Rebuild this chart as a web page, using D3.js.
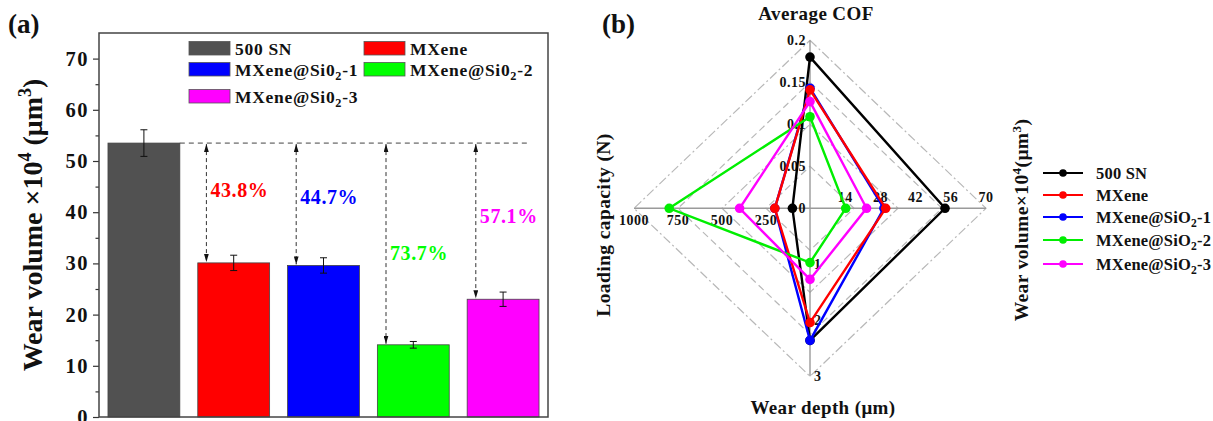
<!doctype html>
<html>
  <head>
    <meta charset="utf-8">
    <style>
      body { margin: 0; background: #fff; }
      svg text { font-family: "Liberation Serif", "Times New Roman", serif; font-weight: bold; }
    </style>
  </head>
  <body>
    <svg id="chart" width="1213" height="421"></svg>

  <script src="https://cdn.jsdelivr.net/npm/d3@7"></script>
  <script>
  // ---- panel (a) data: wear volume bars ----
  let samples = ["500 SN", "MXene", "MXene@Si0_2-1", "MXene@Si0_2-2", "MXene@Si0_2-3"];
  let barColors = ["#515151", "#ff0000", "#0000ff", "#00ff00", "#ff00ff"];
  let wearVolume = [53.5, 30.1, 29.6, 14.1, 23.0];
  let wearErr = [2.6, 1.5, 1.5, 0.65, 1.4];
  let reduction = ["43.8%", "44.7%", "73.7%", "57.1%"];
  let reductionLabelAt = [42.9, 41.6, 30.7, 37.9]; // label baselines, in wear volume units
  let yTicks = [0, 10, 20, 30, 40, 50, 60, 70];
  let yMinorTicks = [5, 15, 25, 35, 45, 55, 65];

  // ---- panel (b) data: radar ----
  let radarNames = ["500 SN", "MXene", "MXene@SiO_2-1", "MXene@SiO_2-2", "MXene@SiO_2-3"];
  let radarColors = ["#000000", "#ff0000", "#0000ff", "#00ee00", "#ff00ff"];
  let avgCOF = [0.18, 0.141, 0.143, 0.109, 0.127];
  let radarVolume = [53.7, 30.1, 29.4, 14.2, 22.5];
  let wearDepth = [2.36, 2.04, 2.36, 0.97, 1.27];
  let loadCapacity = [100, 200, 200, 800, 400];
  let cofTicks = [0, 0.05, 0.1, 0.15, 0.2];
  let volumeTicks = [14, 28, 42, 56, 70];
  let depthTicks = [1, 2, 3];
  let loadTicks = [250, 500, 750, 1000];
  let ringLevels = [0.25, 0.5, 0.75, 1];
  let drawOrder = [0, 2, 1, 3, 4];

  let svg = d3.select("#chart");

  // writes "abc_2def" as abc + subscript 2 + def
  function subLabel(t, str, shift) {
    let parts = str.split("_");
    t.append("tspan").text(parts[0]);
    if (parts.length > 1) {
      t.append("tspan").attr("dy", shift).attr("font-size", "70%").text(parts[1][0]);
      t.append("tspan").attr("dy", -shift).text(parts[1].slice(1));
    }
  }

  // ================= panel (a) =================
  let frame = { left: 99, right: 548, top: 33, bottom: 417 };

  let x = d3.scaleBand()
    .domain(samples)
    .range([frame.left, frame.right])
    .paddingInner(0.2)
    .paddingOuter(0.1);
  let y = d3.scaleLinear().domain([0, 75]).range([frame.bottom, frame.top]);

  let pa = svg.append("g");

  // axis ticks
  let yAxis = pa.append("g")
    .attr("transform", "translate(" + frame.left + ",0)")
    .call(d3.axisLeft(y).tickValues(yTicks).tickSize(6).tickPadding(4));
  yAxis.select(".domain").remove();
  yAxis.selectAll("line").attr("stroke", "#333").attr("stroke-width", 1.2);
  yAxis.selectAll("text").attr("font-size", "20.5px").attr("letter-spacing", "1.5px").attr("fill", "#111");

  let yMinor = pa.append("g")
    .attr("transform", "translate(" + frame.left + ",0)")
    .call(d3.axisLeft(y).tickValues(yMinorTicks).tickSize(3.5).tickFormat(""));
  yMinor.select(".domain").remove();
  yMinor.selectAll("line").attr("stroke", "#333").attr("stroke-width", 1.2);

  // bars
  pa.append("g")
    .selectAll("rect")
    .data(samples)
    .join("rect")
    .attr("x", d => x(d))
    .attr("y", (d, i) => y(wearVolume[i]))
    .attr("width", x.bandwidth())
    .attr("height", (d, i) => y(0) - y(wearVolume[i]))
    .attr("fill", (d, i) => barColors[i])
    .attr("stroke", "#444")
    .attr("stroke-width", 0.8);

  // error bars
  let eb = pa.append("g").attr("stroke", "#111").attr("stroke-width", 1);
  samples.forEach(function (d, i) {
    let cxb = x(d) + x.bandwidth() / 2;
    let hi = y(wearVolume[i] + wearErr[i]);
    let lo = y(wearVolume[i] - wearErr[i]);
    eb.append("line").attr("x1", cxb).attr("x2", cxb).attr("y1", hi).attr("y2", lo);
    eb.append("line").attr("x1", cxb - 3.5).attr("x2", cxb + 3.5).attr("y1", hi).attr("y2", hi);
    eb.append("line").attr("x1", cxb - 3.5).attr("x2", cxb + 3.5).attr("y1", lo).attr("y2", lo);
  });

  // reference dashed line at the 500 SN level
  let refY = y(wearVolume[0]);
  pa.append("line")
    .attr("x1", x(samples[0]) + x.bandwidth())
    .attr("x2", x(samples[4]) + x.bandwidth() * 0.87)
    .attr("y1", refY)
    .attr("y2", refY)
    .attr("stroke", "#444")
    .attr("stroke-width", 1)
    .attr("stroke-dasharray", "5,4");

  let defs = svg.append("defs");
  defs.append("marker")
    .attr("id", "arrowHead")
    .attr("viewBox", "0 0 10 6")
    .attr("refX", 10)
    .attr("refY", 3)
    .attr("markerUnits", "userSpaceOnUse")
    .attr("markerWidth", 8)
    .attr("markerHeight", 5)
    .attr("orient", "auto-start-reverse")
    .append("path")
    .attr("d", "M0,0L10,3L0,6z")
    .attr("fill", "#111");

  // double arrows + reduction labels
  reduction.forEach(function (r, k) {
    let i = k + 1;
    let ax = x(samples[i]) + x.bandwidth() * 0.12;
    pa.append("line")
      .attr("x1", ax)
      .attr("x2", ax)
      .attr("y1", refY + 1)
      .attr("y2", y(wearVolume[i]) - 1)
      .attr("stroke", "#333")
      .attr("stroke-width", 1)
      .attr("stroke-dasharray", "4,3")
      .attr("marker-start", "url(#arrowHead)")
      .attr("marker-end", "url(#arrowHead)");
    pa.append("text")
      .attr("x", ax + 4)
      .attr("y", y(reductionLabelAt[k]))
      .attr("font-size", "20px")
      .attr("letter-spacing", "0.6px")
      .attr("fill", barColors[i])
      .text(r);
  });

  // frame
  pa.append("rect")
    .attr("x", frame.left)
    .attr("y", frame.top)
    .attr("width", frame.right - frame.left)
    .attr("height", frame.bottom - frame.top)
    .attr("fill", "none")
    .attr("stroke", "#444")
    .attr("stroke-width", 1.5);

  // legend (a)
  let legA = pa.append("g");
  let legPos = [[189, 41.5], [364, 41.5], [189, 62.5], [364, 62.5], [189, 89.5]];
  samples.forEach(function (d, i) {
    legA.append("rect")
      .attr("x", legPos[i][0])
      .attr("y", legPos[i][1])
      .attr("width", 41)
      .attr("height", 13.5)
      .attr("fill", barColors[i])
      .attr("stroke", "#555")
      .attr("stroke-width", 0.8);
    let t = legA.append("text")
      .attr("x", legPos[i][0] + 46)
      .attr("y", legPos[i][1] + 13)
      .attr("font-size", "17.5px")
      .attr("letter-spacing", "0.7px")
      .attr("fill", "#111");
    subLabel(t, d, 4);
  });

  // axis title (a)
  let ta = pa.append("text")
    .attr("transform", "translate(42,225) rotate(-90)")
    .attr("text-anchor", "middle")
    .attr("font-size", "28px")
    .attr("fill", "#111");
  ta.append("tspan").text("Wear volume ×10");
  ta.append("tspan").attr("dy", -11).attr("font-size", "18px").text("4");
  ta.append("tspan").attr("dy", 11).text(" (μm");
  ta.append("tspan").attr("dy", -11).attr("font-size", "18px").text("3");
  ta.append("tspan").attr("dy", 11).text(")");

  svg.append("text").attr("x", 8).attr("y", 33).attr("font-size", "27px").attr("fill", "#111").text("(a)");

  // ================= panel (b) =================
  let cx = 810, cy = 208.3, rx = 176, ry = 168;
  let rCOF = d3.scaleLinear().domain([0, 0.2]).range([0, ry]);
  let rVol = d3.scaleLinear().domain([0, 70]).range([0, rx]);
  let rDepth = d3.scaleLinear().domain([0, 3]).range([0, ry]);
  let rLoad = d3.scaleLinear().domain([0, 1000]).range([0, rx]);

  let pb = svg.append("g");

  // rings
  pb.append("g")
    .selectAll("path")
    .data(ringLevels)
    .join("path")
    .attr("d", f => "M" + cx + "," + (cy - ry * f) + "L" + (cx + rx * f) + "," + cy +
      "L" + cx + "," + (cy + ry * f) + "L" + (cx - rx * f) + "," + cy + "Z")
    .attr("fill", "none")
    .attr("stroke", "#b8b8b8")
    .attr("stroke-width", 1.2)
    .attr("stroke-dasharray", (f, i) => i % 2 ? "9,3,2,3" : "7,4");

  // spokes
  pb.append("line").attr("x1", cx).attr("x2", cx).attr("y1", cy - ry).attr("y2", cy + ry)
    .attr("stroke", "#9a9a9a").attr("stroke-width", 1.4);
  pb.append("line").attr("x1", cx - rx).attr("x2", cx + rx).attr("y1", cy).attr("y2", cy)
    .attr("stroke", "#9a9a9a").attr("stroke-width", 1.4);

  // tick labels
  let tl = pb.append("g").attr("font-size", "14px").attr("letter-spacing", "0.5px").attr("fill", "#111");
  cofTicks.forEach(v => tl.append("text").attr("x", cx - 4).attr("y", cy - rCOF(v))
    .attr("dy", "0.35em").attr("text-anchor", "end").text(v));
  volumeTicks.forEach(v => tl.append("text").attr("x", cx + rVol(v)).attr("y", cy - 6)
    .attr("text-anchor", "middle").text(v));
  depthTicks.forEach(v => tl.append("text").attr("x", cx + 4).attr("y", cy + rDepth(v))
    .attr("dy", "0.35em").text(v));
  loadTicks.forEach(v => tl.append("text").attr("x", cx - rLoad(v)).attr("y", cy + 17)
    .attr("text-anchor", "middle").text(v));

  // series
  function radarPoints(i) {
    return [
      [cx, cy - rCOF(avgCOF[i])],
      [cx + rVol(radarVolume[i]), cy],
      [cx, cy + rDepth(wearDepth[i])],
      [cx - rLoad(loadCapacity[i]), cy]
    ];
  }
  let line = d3.line().curve(d3.curveLinearClosed);
  drawOrder.forEach(function (i) {
    let pts = radarPoints(i);
    let g = pb.append("g");
    g.append("path")
      .attr("d", line(pts))
      .attr("fill", "none")
      .attr("stroke", radarColors[i])
      .attr("stroke-width", 2.4);
    g.selectAll("circle")
      .data(pts)
      .join("circle")
      .attr("cx", d => d[0])
      .attr("cy", d => d[1])
      .attr("r", 4.8)
      .attr("fill", radarColors[i]);
  });

  // axis titles (b)
  pb.append("text").attr("x", 816).attr("y", 20).attr("text-anchor", "middle")
    .attr("font-size", "19px").attr("letter-spacing", "0.4px").attr("fill", "#111").text("Average COF");
  pb.append("text").attr("x", 823).attr("y", 414).attr("text-anchor", "middle")
    .attr("font-size", "19px").attr("letter-spacing", "0.4px").attr("fill", "#111").text("Wear depth (μm)");
  pb.append("text").attr("transform", "translate(610,225) rotate(-90)").attr("text-anchor", "middle")
    .attr("font-size", "19.5px").attr("letter-spacing", "0.4px").attr("fill", "#111").text("Loading capacity (N)");
  let tb = pb.append("text")
    .attr("transform", "translate(1028,220) rotate(-90)")
    .attr("text-anchor", "middle")
    .attr("font-size", "19.5px")
    .attr("letter-spacing", "0.4px")
    .attr("fill", "#111");
  tb.append("tspan").text("Wear  volume×10");
  tb.append("tspan").attr("dy", -7).attr("font-size", "13px").text("4");
  tb.append("tspan").attr("dy", 7).text("(μm");
  tb.append("tspan").attr("dy", -7).attr("font-size", "13px").text("3");
  tb.append("tspan").attr("dy", 7).text(")");

  // legend (b)
  let legRows = [173, 195, 217, 240, 264];
  let legB = pb.append("g");
  radarNames.forEach(function (d, i) {
    legB.append("line").attr("x1", 1043).attr("x2", 1083).attr("y1", legRows[i]).attr("y2", legRows[i])
      .attr("stroke", radarColors[i]).attr("stroke-width", 2);
    legB.append("circle").attr("cx", 1063).attr("cy", legRows[i]).attr("r", 3.8).attr("fill", radarColors[i]);
    let t = legB.append("text")
      .attr("x", 1096)
      .attr("y", legRows[i] + 5.5)
      .attr("font-size", "16.5px")
      .attr("letter-spacing", "0.2px")
      .attr("fill", "#111");
    subLabel(t, d, 4);
  });

  svg.append("text").attr("x", 602).attr("y", 33).attr("font-size", "27px").attr("fill", "#111").text("(b)");
  </script>
  </body>
</html>
